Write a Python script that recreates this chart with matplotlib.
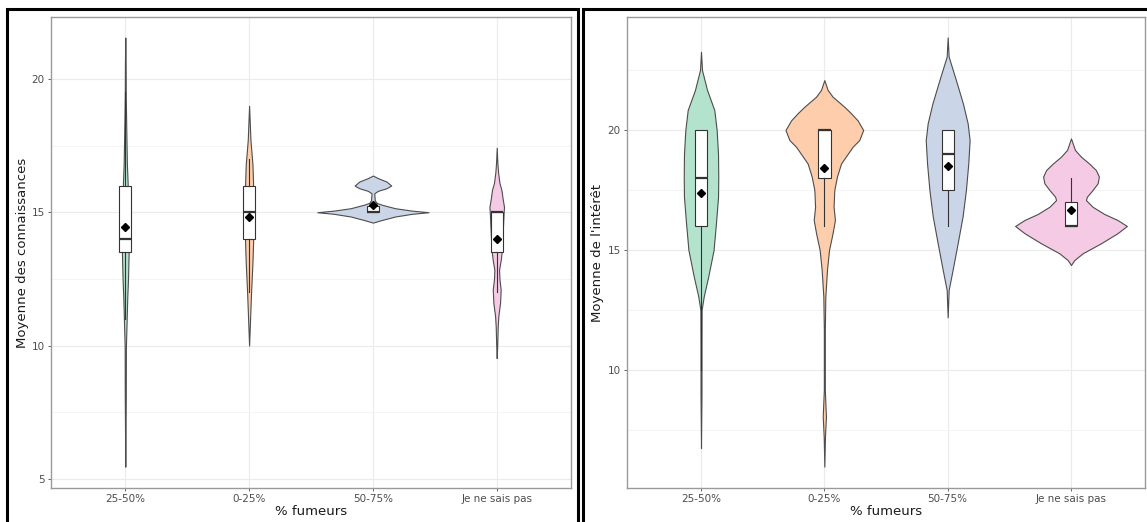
import numpy as np
import matplotlib
matplotlib.use("Agg")
import matplotlib.pyplot as plt
from matplotlib.patches import Rectangle

categories = ["25-50%", "0-25%", "50-75%", "Je ne sais pas"]
fill_colors = ["#B3E2CD", "#FDCDAC", "#CBD5E8", "#F4CAE4"]

# --- left panel: Moyenne des connaissances ---
# violin outlines: y levels and half widths (in category units)
k_y_2550 = [21.55, 20.5, 19.3, 18.1, 16.8, 16.1, 15.0, 14.0, 13.46, 12.5, 11.8, 10.96, 9.96, 8.0, 5.46]
k_w_2550 = [0, 0.003, 0.004, 0.008, 0.013, 0.019, 0.022, 0.025, 0.027, 0.022, 0.016, 0.011, 0.005, 0.004, 0]
k_y_025 = [18.99, 17.7, 16.8, 16.1, 15.0, 13.8, 13.1, 12.0, 11.0, 10.0]
k_w_025 = [0, 0.011, 0.027, 0.032, 0.035, 0.032, 0.027, 0.016, 0.008, 0]
k_y_5075 = [16.375, 16.28, 16.15, 16.0, 15.9, 15.8, 15.71, 15.45, 15.35, 15.28, 15.15, 15.06, 15.0,
            14.94, 14.84, 14.71, 14.61]
k_w_5075 = [0, 0.04, 0.11, 0.148, 0.11, 0.04, 0.011, 0.015, 0.03, 0.073, 0.18, 0.315, 0.449,
            0.315, 0.18, 0.073, 0]
k_y_nsp = [17.42, 16.87, 16.5, 16.1, 15.84, 15.5, 15.2, 15.0, 14.5, 14.0, 13.5, 13.2, 12.84, 12.5,
           12.1, 11.6, 11.1, 10.7, 10.0, 9.53]
k_w_nsp = [0, 0.005, 0.011, 0.022, 0.038, 0.048, 0.059, 0.056, 0.051, 0.046, 0.04, 0.032, 0.019,
           0.022, 0.032, 0.027, 0.013, 0.008, 0.004, 0]

k_q1 = [13.5, 14.0, 15.0, 13.5]
k_med = [14.0, 15.0, 15.0, 15.0]
k_q3 = [16.0, 16.0, 15.25, 15.0]
k_lo = [11.0, 12.0, 15.0, 12.0]
k_hi = [19.5, 17.0, 15.25, 15.0]
k_mean = [14.44, 14.81, 15.28, 13.99]

# --- right panel: Moyenne de l'intérêt ---
i_y_2550 = [23.26, 22.5, 21.67, 20.83, 20.0, 19.0, 18.0, 17.2, 16.1, 15.0, 13.9, 13.06, 12.5, 11.0, 9.0, 6.74]
i_w_2550 = [0, 0.008, 0.049, 0.108, 0.127, 0.138, 0.14, 0.138, 0.121, 0.102, 0.059, 0.022, 0.005, 0.004, 0.004, 0]
i_y_025 = [22.08, 21.67, 21.39, 20.97, 20.7, 20.4, 20.0, 19.58, 19.3, 18.6, 18.05, 17.5, 16.8, 16.25,
           15.7, 15.0, 14.2, 13.05, 11.67, 9.17, 8.06, 7.2, 5.97]
i_w_025 = [0, 0.027, 0.067, 0.162, 0.216, 0.27, 0.315, 0.283, 0.229, 0.135, 0.102, 0.081, 0.075, 0.086,
           0.067, 0.038, 0.022, 0.008, 0.004, 0.004, 0.013, 0.005, 0]
i_y_5075 = [23.86, 23.06, 22.08, 21.1, 20.28, 19.58, 18.6, 17.5, 16.4, 15.28, 14.17, 13.33, 12.19]
i_w_5075 = [0, 0.008, 0.067, 0.124, 0.162, 0.178, 0.167, 0.148, 0.121, 0.081, 0.04, 0.008, 0]
i_y_nsp = [19.65, 19.17, 18.89, 18.6, 18.33, 18.06, 17.78, 17.5, 17.22, 17.08, 16.8, 16.5, 16.25, 16.0,
           15.7, 15.28, 14.86, 14.58, 14.375]
i_w_nsp = [0, 0.032, 0.081, 0.148, 0.202, 0.226, 0.216, 0.175, 0.129, 0.121, 0.175, 0.27, 0.377, 0.453,
           0.377, 0.243, 0.094, 0.027, 0]

i_q1 = [16.0, 18.0, 17.5, 16.0]
i_med = [18.0, 20.0, 19.0, 16.0]
i_q3 = [20.0, 20.0, 20.0, 17.0]
i_lo = [10.0, 16.0, 16.0, 16.0]
i_hi = [20.0, 20.0, 20.0, 18.0]
i_mean = [17.36, 18.43, 18.5, 16.67]

W, H = 1147, 522
fig = plt.figure(figsize=(W / 100, H / 100), dpi=100)


def draw_panel(ax, ys, ws, q1, med, q3, lo, hi, mean, ylabel, ylim, major, minor):
    pos = np.arange(len(categories))
    for i in range(len(categories)):
        y = np.array(ys[i])
        w = np.array(ws[i])
        ax.fill_betweenx(y, pos[i] - w, pos[i] + w, facecolor=fill_colors[i],
                         edgecolor="#4D4D4D", linewidth=0.8, zorder=2)
    stats = []
    for i in range(len(categories)):
        stats.append({"med": med[i], "q1": q1[i], "q3": q3[i], "whislo": lo[i],
                      "whishi": hi[i], "mean": mean[i], "fliers": []})
    ax.bxp(stats, positions=pos, widths=0.1, patch_artist=True, showfliers=False,
           showcaps=False, showmeans=True, manage_ticks=False,
           boxprops=dict(facecolor="white", edgecolor="#333333", linewidth=0.8),
           whiskerprops=dict(color="#333333", linewidth=0.8),
           medianprops=dict(color="#333333", linewidth=1.6),
           meanprops=dict(marker="D", markerfacecolor="black", markeredgecolor="black",
                          markersize=3.6),
           zorder=3)

    ax.set_xlim(-0.6, 3.6)
    ax.set_ylim(*ylim)
    ax.set_xticks(pos)
    ax.set_xticklabels(categories)
    ax.set_yticks(major)
    ax.set_yticks(minor, minor=True)
    ax.grid(which="major", color="#EBEBEB", linewidth=0.8, zorder=0)
    ax.grid(which="minor", axis="y", color="#F3F3F3", linewidth=0.6, zorder=0)
    ax.set_axisbelow(True)
    ax.tick_params(which="major", length=2.5, width=0.7, color="#666666",
                   labelsize=7.5, labelcolor="#4D4D4D", pad=2)
    ax.tick_params(which="minor", length=0)
    for s in ax.spines.values():
        s.set_color("#9A9A9A")
        s.set_linewidth(1.0)
    ax.set_xlabel("% fumeurs", fontsize=9.5, color="#1A1A1A")
    ax.set_ylabel(ylabel, fontsize=9.5, color="#1A1A1A")
    ax.xaxis.set_label_coords(0.5, -0.036)


ax1 = fig.add_axes([51 / W, 34 / H, 520 / W, 471 / H])
draw_panel(ax1, [k_y_2550, k_y_025, k_y_5075, k_y_nsp], [k_w_2550, k_w_025, k_w_5075, k_w_nsp],
           k_q1, k_med, k_q3, k_lo, k_hi, k_mean, "Moyenne des connaissances",
           (4.66, 22.32), [5, 10, 15, 20], [7.5, 12.5, 17.5])
ax1.yaxis.set_label_coords(-0.042, 0.5)

ax2 = fig.add_axes([627 / W, 34 / H, 518 / W, 471 / H])
draw_panel(ax2, [i_y_2550, i_y_025, i_y_5075, i_y_nsp], [i_w_2550, i_w_025, i_w_5075, i_w_nsp],
           i_q1, i_med, i_q3, i_lo, i_hi, i_mean, "Moyenne de l'intérêt",
           (5.08, 24.71), [10, 15, 20], [7.5, 12.5, 17.5, 22.5])
ax2.yaxis.set_label_coords(-0.045, 0.5)

# black frames around each panel (cut by the image edges)
fig.add_artist(Rectangle((6.5 / W, -0.1), 571 / W, 1.1 - 8.7 / H, transform=fig.transFigure,
                         fill=False, edgecolor="black", linewidth=2.2))
fig.add_artist(Rectangle((582.5 / W, -0.1), 0.6, 1.1 - 8.7 / H, transform=fig.transFigure,
                         fill=False, edgecolor="black", linewidth=2.2))

fig.savefig("out.png", dpi=100)
